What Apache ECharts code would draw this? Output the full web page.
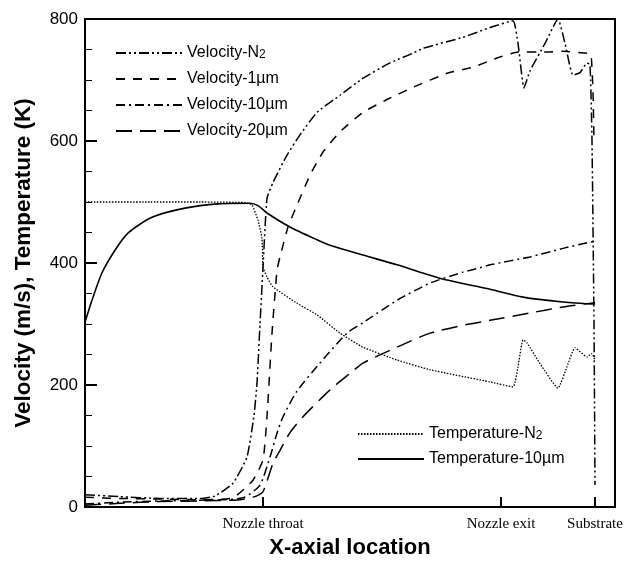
<!DOCTYPE html>
<html>
<head>
<meta charset="utf-8">
<script src="https://cdn.jsdelivr.net/npm/echarts@6/dist/echarts.min.js"></script>
<style>html,body{margin:0;padding:0;background:#fff;}#c{width:626px;height:561px;}</style>
</head>
<body>
<div id="c"></div>
<script>
// x: axial location (arbitrary units, 0 = inlet), y: velocity (m/s) or temperature (K)
const xTickValues = [178, 416, 510];
const xTickLabels = ['Nozzle throat', 'Nozzle exit', 'Substrate'];

const velN2 = [[0,20],[35,17],[75,14],[115,14],[130,18],[148,39],[162,82],[169,150],[172,203],[175,300],[178,393],[182,506],[188,532],[202,577],[215,610],[232,647],[255,675],[278,703],[305,728],[328,744],[338,752],[378,770],[405,786],[428,797],[433,760],[439,687],[445,715],[460,760],[473,800],[480,760],[488,708],[495,712],[502,728],[505,725],[507,600],[509,300],[510,36]];
const vel1 = [[0,16],[35,14],[75,13],[115,12],[148,15],[168,44],[178,77],[182,148],[187,285],[192,388],[195,410],[203,459],[212,495],[225,544],[238,582],[255,615],[278,647],[302,668],[328,688],[362,711],[388,721],[412,736],[433,746],[462,746],[477,747],[502,744],[506,742],[508,680],[509,600]];
const vel10 = [[0,5],[35,8],[75,10],[115,11],[158,15],[175,36],[185,82],[192,121],[198,148],[212,190],[235,236],[262,285],[278,302],[312,339],[345,367],[378,385],[395,392],[405,397],[445,410],[478,424],[510,436]];
const vel20 = [[0,3],[35,6],[75,9],[115,10],[155,12],[170,17],[178,25],[188,72],[195,93],[205,122],[218,148],[245,192],[265,219],[278,236],[312,262],[345,285],[378,298],[405,306],[445,318],[478,328],[510,335]];
const tempN2 = [[0,500],[65,500],[115,500],[160,499],[167,495],[173,470],[177,440],[178,393],[182,377],[188,361],[212,334],[232,315],[255,285],[278,262],[312,241],[345,225],[405,205],[428,197],[433,230],[438,274],[442,269],[455,235],[473,195],[482,230],[490,261],[502,246],[507,252],[510,240]];
const temp10 = [[0,303],[7,339],[17,384],[30,421],[43,449],[67,475],[100,490],[133,497],[165,498],[173,494],[182,482],[205,459],[232,438],[245,429],[278,413],[312,397],[345,380],[362,372],[405,357],[438,344],[478,336],[507,333],[510,333]];

const dashN2 = [10,3,2,3,2,3];
const dash1 = [9,8];
const dash10 = [9,4,2,4];
const dash20 = [16,8];
const dotT = [1.5,1.5];

function line(name, data, type, width, smooth) {
  return {
    name: name, type: 'line', data: data, symbol: 'none',
    smooth: smooth,
    lineStyle: { color: '#000', width: width, type: type },
    itemStyle: { color: '#000' },
    emphasis: { disabled: true }
  };
}

const fmtLegend = function (n) {
  if (n === 'Velocity-N2') return 'Velocity-N{s|2}';
  if (n === 'Temperature-N2') return 'Temperature-N{s|2}';
  return n;
};
const legendText = {
  fontFamily: 'Liberation Sans, Arial, sans-serif', fontSize: 16, color: '#000',
  rich: { s: { fontFamily: 'Liberation Sans, Arial, sans-serif', fontSize: 12, color: '#000', verticalAlign: 'bottom', padding: [4,0,0,0] } }
};

const chart = echarts.init(document.getElementById('c'), null, { renderer: 'canvas' });
chart.setOption({
  animation: false,
  backgroundColor: '#fff',
  grid: { left: 85, right: 11, top: 19, bottom: 54, show: true, borderColor: '#000', borderWidth: 2, backgroundColor: 'transparent', outerBoundsMode: 'none', containLabel: false },
  xAxis: {
    type: 'value', min: 0, max: 530,
    name: 'X-axial location', nameLocation: 'middle', nameGap: 30,
    nameTextStyle: { fontFamily: 'Liberation Sans, Arial, sans-serif', fontSize: 22, fontWeight: 'bold', color: '#000' },
    axisLine: { show: true, lineStyle: { color: '#000', width: 2 } },
    axisTick: { show: true, inside: true, length: 10, lineStyle: { color: '#000', width: 2 }, customValues: xTickValues },
    axisLabel: {
      customValues: xTickValues, margin: 10,
      fontFamily: 'Liberation Serif, Times New Roman, serif', fontSize: 15, color: '#000',
      formatter: function (v) { const i = xTickValues.indexOf(v); return i >= 0 ? xTickLabels[i] : ''; }
    },
    splitLine: { show: false }
  },
  yAxis: {
    type: 'value', min: 0, max: 800, interval: 200,
    name: 'Velocity (m/s), Temperature (K)', nameLocation: 'middle', nameGap: 50,
    nameTextStyle: { fontFamily: 'Liberation Sans, Arial, sans-serif', fontSize: 22.5, fontWeight: 'bold', color: '#000' },
    axisLine: { show: true, lineStyle: { color: '#000', width: 2 } },
    axisTick: { show: true, inside: true, length: 12, lineStyle: { color: '#000', width: 2 } },
    minorTick: { show: true, splitNumber: 4, length: 7, lineStyle: { color: '#000', width: 1 } },
    axisLabel: { margin: 7, fontFamily: 'Liberation Sans, Arial, sans-serif', fontSize: 17, color: '#000' },
    splitLine: { show: false }
  },
  legend: [
    {
      data: ['Velocity-N2', 'Velocity-1µm', 'Velocity-10µm', 'Velocity-20µm'],
      orient: 'vertical', left: 110, top: 40, itemWidth: 66, itemHeight: 14, itemGap: 10,
      itemStyle: { opacity: 0 },
      formatter: fmtLegend, textStyle: legendText, selectedMode: false
    },
    {
      data: ['Temperature-N2', 'Temperature-10µm'],
      orient: 'vertical', left: 352, top: 421, itemWidth: 66, itemHeight: 14, itemGap: 9,
      itemStyle: { opacity: 0 },
      formatter: fmtLegend, textStyle: legendText, selectedMode: false
    }
  ],
  series: [
    line('Velocity-N2', velN2, dashN2, 1.5, 0.15),
    line('Velocity-1µm', vel1, dash1, 1.5, 0.15),
    line('Velocity-10µm', vel10, dash10, 1.5, 0.2),
    line('Velocity-20µm', vel20, dash20, 1.5, 0.2),
    line('Temperature-N2', tempN2, dotT, 1.3, 0.15),
    line('Temperature-10µm', temp10, 'solid', 1.6, 0.25)
  ]
});
</script>
</body>
</html>
